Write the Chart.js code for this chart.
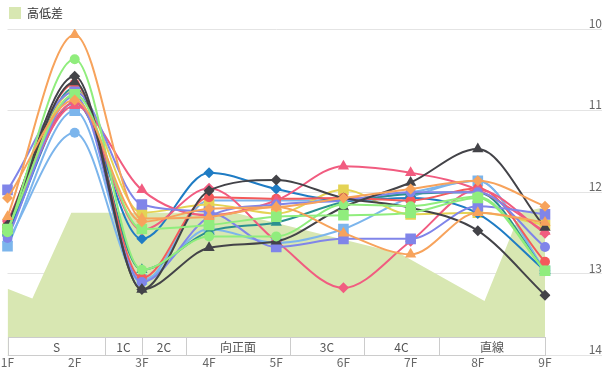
<!DOCTYPE html>
<html>
<head>
<meta charset="utf-8">
<script src="https://cdn.jsdelivr.net/npm/chart.js@4"></script>
<style>
  html, body { margin: 0; padding: 0; background: #fff; }
  #wrap { width: 608px; height: 380px; }
</style>
</head>
<body>
<div id="wrap"><canvas id="myChart" width="608" height="380"></canvas></div>
<script>
// x categories and course sections
const furlongs = ['1F', '2F', '3F', '4F', '5F', '6F', '7F', '8F', '9F']
const sectionNames = ['S', '1C', '2C', '向正面', '3C', '4C', '直線']
const sectionEdges = [0, 1.45, 2.0, 2.65, 4.2, 5.31, 6.42, 8]

// elevation profile (position in furlongs from 1F, height)
const elevPos = [0, 0.37, 0.95, 3.38, 5.84, 7.1, 7.63, 8]
const elevVal = [0.82, 0.70, 1.75, 1.75, 1.25, 0.67, 1.75, 1.82]

// lap values per runner, 1F..9F
const orangeTri   = [12.30, 10.07, 12.32, 12.30, 12.18, 12.50, 12.76, 12.25, 12.37]
const orangeDia   = [12.07, 10.87, 12.36, 12.20, 12.18, 12.07, 11.96, 11.86, 12.17]
const greenCircle = [12.49, 10.37, 12.95, 12.54, 12.54, 12.15, 12.17, 12.05, 12.96]
const greenSquare = [12.45, 10.80, 12.45, 12.40, 12.30, 12.28, 12.25, 12.07, 12.96]
const darkDia     = [12.40, 10.58, 13.19, 11.98, 11.85, 12.07, 12.19, 12.47, 13.26]
const darkTri     = [12.45, 10.65, 13.19, 12.68, 12.60, 12.18, 11.88, 11.47, 12.43]
const purpleSq    = [11.97, 10.77, 12.15, 12.24, 12.67, 12.57, 12.57, 12.17, 12.27]
const purpleCirc  = [12.56, 10.82, 13.10, 12.30, 12.15, 12.10, 12.00, 12.00, 12.67]
const pinkTri     = [12.40, 10.94, 11.97, 12.28, 12.10, 11.68, 11.76, 11.97, 12.48]
const pinkDia     = [12.35, 10.90, 12.46, 11.95, 12.60, 13.17, 12.60, 11.97, 12.50]
const redCircle   = [12.36, 10.67, 13.05, 12.06, 12.08, 12.07, 12.10, 11.95, 12.85]
const blueDia     = [12.52, 10.90, 12.57, 11.76, 11.96, 12.10, 12.07, 12.26, 12.96]
const yellowSq    = [12.45, 10.75, 12.25, 12.15, 12.26, 11.97, 12.27, 12.25, 12.40]
const tealTri     = [12.50, 10.72, 12.95, 12.48, 12.37, 12.12, 12.02, 12.00, 12.96]
const lblueCirc   = [12.60, 11.27, 13.10, 12.10, 12.10, 12.10, 12.00, 11.86, 12.96]
const lblueSq     = [12.66, 11.00, 13.07, 12.45, 12.62, 12.45, 12.06, 11.86, 12.96]

const runners = [
	[orangeTri, '#f7a35c', 'triangle'],
	[orangeDia, '#f7a35c', 'rectRot'],
	[greenCircle, '#90ed7d', 'circle'],
	[greenSquare, '#90ed7d', 'rect'],
	[darkDia, '#434348', 'rectRot'],
	[darkTri, '#434348', 'triangle'],
	[purpleSq, '#8085e9', 'rect'],
	[purpleCirc, '#8085e9', 'circle'],
	[pinkTri, '#f15c80', 'triangle'],
	[pinkDia, '#f15c80', 'rectRot'],
	[redCircle, '#f45b5b', 'circle'],
	[blueDia, '#1f7cc4', 'rectRot'],
	[yellowSq, '#e4d354', 'rect'],
	[tealTri, '#2b908f', 'triangle'],
	[lblueCirc, '#7cb5ec', 'circle'],
	[lblueSq, '#7cb5ec', 'rect'],
]

const radiusFor = { circle: 5, rect: 7.5, triangle: 6.5, rectRot: 5.5 }
const fontFamily = "'Noto Sans CJK JP', 'Noto Sans', sans-serif"

const sectionBand = {
	id: 'sectionBand',
	afterDatasetsDraw(chart) {
		const { ctx, chartArea } = chart
		const xs = chart.scales.x2
		const top = Math.round(chartArea.bottom) - 19
		const h = 18
		ctx.save()
		ctx.font = '12px ' + fontFamily
		ctx.textAlign = 'center'
		ctx.textBaseline = 'middle'
		ctx.lineWidth = 1
		sectionNames.forEach((name, i) => {
			const x1 = Math.round(xs.getPixelForValue(sectionEdges[i]))
			const x2 = Math.round(xs.getPixelForValue(sectionEdges[i + 1]))
			ctx.fillStyle = '#fff'
			ctx.fillRect(x1, top, x2 - x1, h)
			ctx.strokeStyle = '#cccccc'
			ctx.strokeRect(x1 + 0.5, top + 0.5, x2 - x1, h)
			ctx.fillStyle = '#555'
			ctx.fillText(name, (x1 + x2) / 2, top + h / 2 + 1)
		})
		ctx.restore()
	},
}

const datasets = runners.map(([values, color, style]) => ({
	data: values,
	xAxisID: 'x',
	yAxisID: 'y',
	borderColor: color,
	backgroundColor: color,
	borderWidth: 2,
	pointStyle: style,
	pointRadius: radiusFor[style],
	pointBorderWidth: 0,
	cubicInterpolationMode: 'monotone',
	fill: false,
	order: 1,
}))

datasets.push({
	label: '高低差',
	data: elevPos.map((p, i) => ({ x: p, y: elevVal[i] })),
	xAxisID: 'x2',
	yAxisID: 'y2',
	borderWidth: 0,
	borderColor: '#d8e7b2',
	backgroundColor: '#d8e7b2',
	pointRadius: 0,
	tension: 0,
	fill: 'origin',
	order: 10,
})

Chart.defaults.font.family = fontFamily
Chart.defaults.font.size = 12

new Chart(document.getElementById('myChart'), {
	type: 'line',
	data: { labels: furlongs, datasets: datasets },
	plugins: [sectionBand],
	options: {
		responsive: false,
		animation: false,
		events: [],
		layout: { padding: { left: 2, right: 6, top: 0, bottom: 10 } },
		plugins: {
			tooltip: { enabled: false },
			legend: {
				position: 'top',
				align: 'start',
				labels: {
					filter: item => item.text === '高低差',
					boxWidth: 12,
					boxHeight: 12,
					padding: 7,
					color: '#333',
					font: { size: 12 },
				},
			},
		},
		scales: {
			x: {
				type: 'category',
				grid: { display: false, drawTicks: false },
				border: { display: false },
				ticks: { color: '#666', padding: 0, maxRotation: 0, autoSkip: false },
			},
			x2: { type: 'linear', min: 0, max: 8, display: false },
			y: {
				position: 'right',
				reverse: true,
				min: 10,
				max: 14,
				ticks: { stepSize: 1, color: '#666', padding: -24, labelOffset: -6, crossAlign: 'far' },
				grid: { color: '#e4e4e4', tickLength: 57 },
				border: { display: false },
				afterFit(scale) {
					scale.width = 57
				},
			},
			y2: { type: 'linear', min: 0, max: 4, display: false },
		},
	},
})
</script>
</body>
</html>
